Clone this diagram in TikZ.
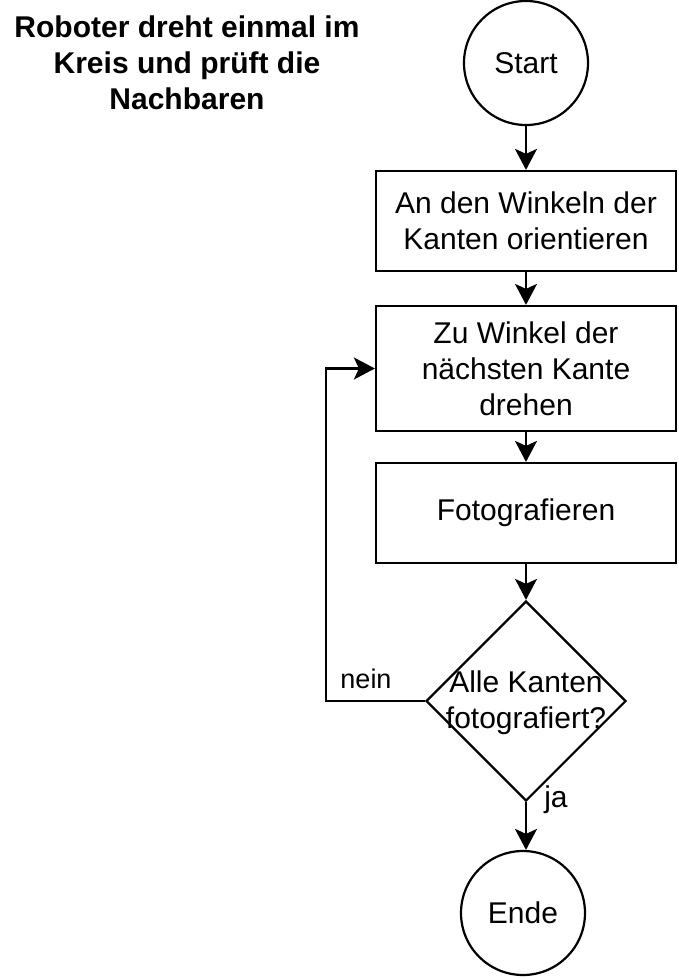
\documentclass[tikz,border=0pt]{standalone}
\usepackage{fontspec}
\setmainfont{Liberation Sans}
\usetikzlibrary{shapes.geometric,arrows.meta}
\begin{document}
\begin{tikzpicture}[x=1pt,y=-1pt,
  every node/.style={font=\fontsize{30}{36}\selectfont},
  box/.style={draw,line width=2.2pt,rectangle,minimum width=300pt,align=center,inner sep=0pt},
  term/.style={draw,line width=2.2pt,circle,minimum size=124pt,inner sep=0pt},
  arr/.style={line width=2.2pt,-{Stealth[length=21pt,width=22pt,inset=5pt]}},
  lbl/.style={inner sep=0pt}
]
\useasboundingbox (0,0) rectangle (678,978);
\node[align=center,font=\fontsize{30}{36}\selectfont\bfseries] (title) at (187,63) {Roboter dreht einmal im\\Kreis und prüft die\\Nachbaren};
\node[term] (start) at (526,63) {Start};
\node[box,minimum height=100pt] (b1) at (526,221) {An den Winkeln der\\Kanten orientieren};
\node[box,minimum height=125pt] (b2) at (526,368.5) {Zu Winkel der\\nächsten Kante\\drehen};
\node[box,minimum height=100pt] (b3) at (526,513) {Fotografieren};
\node[draw,line width=2.2pt,diamond,minimum width=200pt,minimum height=200pt,inner sep=0pt] (d) at (526,701) {};
\node[align=center,inner sep=0pt] (dt) at (526,703) {Alle Kanten\\fotografiert?};
\node[term] (ende) at (523,913) {Ende};
\coordinate (c1) at (326,701);
\coordinate (c2) at (c1 |- b2.west);
\draw[arr] (start) -- (b1);
\draw[arr] (b1) -- (b2);
\draw[arr] (b2) -- (b3);
\draw[arr] (b3) -- (d);
\draw[arr] (d.west) -- (c1) -- (c2) -- (b2.west);
\draw[arr] (d.south) -- (d.south |- ende.north);
\node[lbl,font=\fontsize{27}{30}\selectfont] (nein) at (366,679) {nein};
\node[lbl] (ja) at (556,800) {ja};
\end{tikzpicture}
\end{document}
